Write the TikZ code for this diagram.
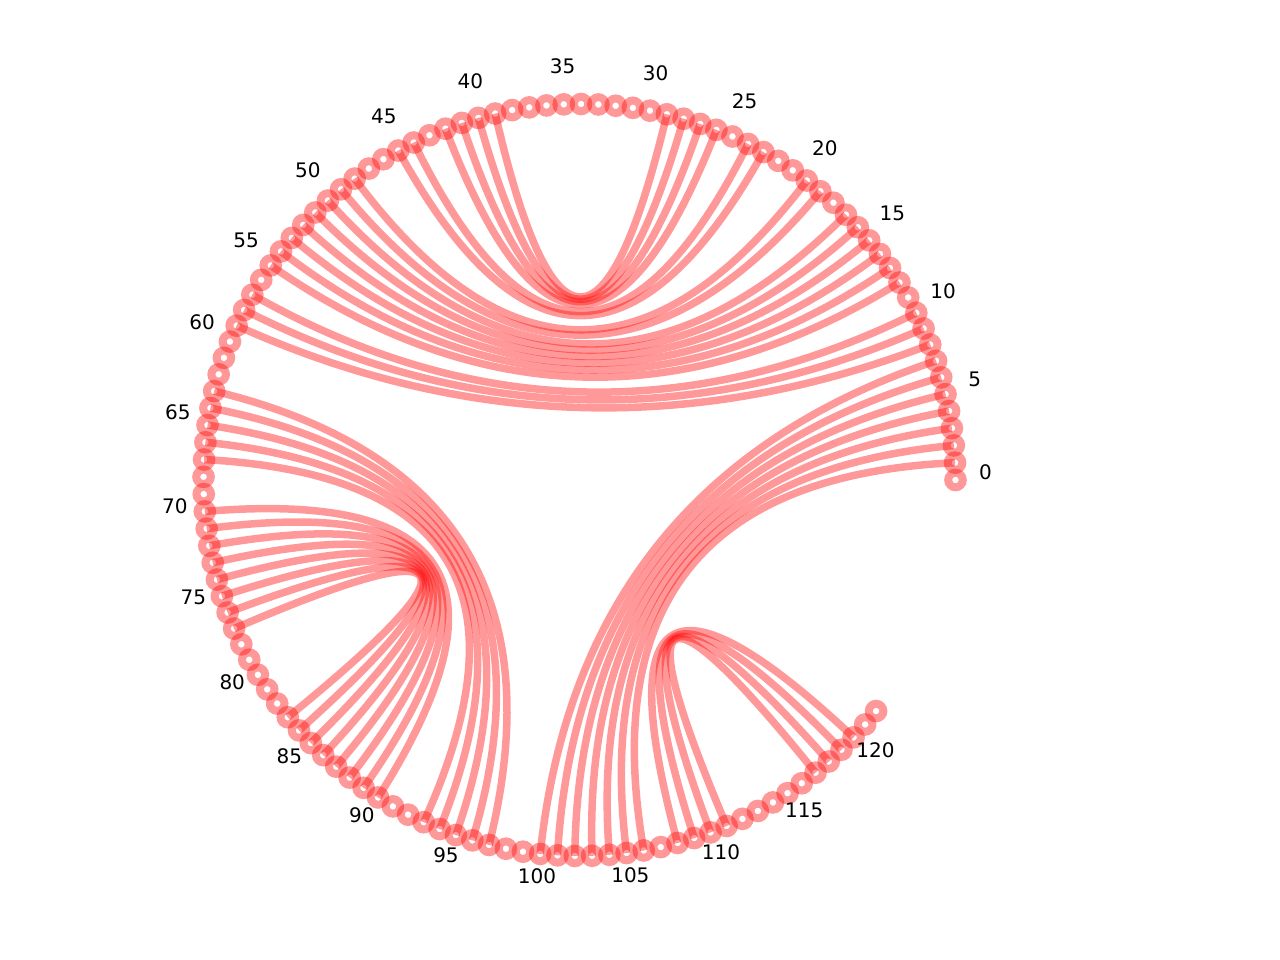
\documentclass[tikz,border=0pt]{standalone}
\usepackage{fontspec}
\setmainfont{DejaVu Sans}
\usetikzlibrary{calc}
\newcommand\mychord[2]{\draw[edge] (n#1.center) .. controls ($(n#1.center)!0.6667!(o)$) and ($(n#2.center)!0.6667!(o)$) .. (n#2.center);}
\begin{document}
\begin{tikzpicture}[x=1pt,y=1pt,
  nd/.style={circle, draw=red, draw opacity=0.4, line width=8pt, minimum size=14.6pt, inner sep=0pt, outer sep=0pt},
  edge/.style={draw=red, draw opacity=0.4, line width=7.5pt},
  lbl/.style={inner sep=0pt, font=\fontsize{20}{24}\selectfont, text=black}]
\useasboundingbox (-579.5,-480) rectangle (700.5,480);
\coordinate (o) at (0,0);
\foreach \i in {0,...,122} {
  \node[nd] (n\i) at ({\i*2.64}:376) {};
}
\foreach \i in {0,5,...,120} {
  \node[lbl] (l\i) at ($({\i*2.64}:406)+(0,8)$) {\i};
}
% top group
\mychord{23}{45}\mychord{24}{44}\mychord{26}{42}\mychord{27}{41}\mychord{28}{40}\mychord{29}{39}
% middle group
\mychord{20}{48}\mychord{19}{49}\mychord{17}{50}\mychord{16}{51}\mychord{15}{52}\mychord{14}{53}
\mychord{13}{54}\mychord{12}{55}\mychord{10}{57}\mychord{9}{58}\mychord{8}{59}
% left groups
\mychord{67}{93}\mychord{66}{94}\mychord{65}{95}\mychord{64}{96}\mychord{63}{97}
\mychord{77}{83}\mychord{76}{84}\mychord{75}{85}\mychord{74}{86}\mychord{73}{87}\mychord{72}{88}\mychord{71}{89}\mychord{70}{90}
% bottom right
\mychord{7}{100}\mychord{6}{101}\mychord{5}{102}\mychord{4}{103}\mychord{3}{104}\mychord{2}{105}\mychord{1}{106}
% loop
\mychord{111}{117}\mychord{110}{118}\mychord{109}{119}\mychord{108}{120}
\end{tikzpicture}
\end{document}
